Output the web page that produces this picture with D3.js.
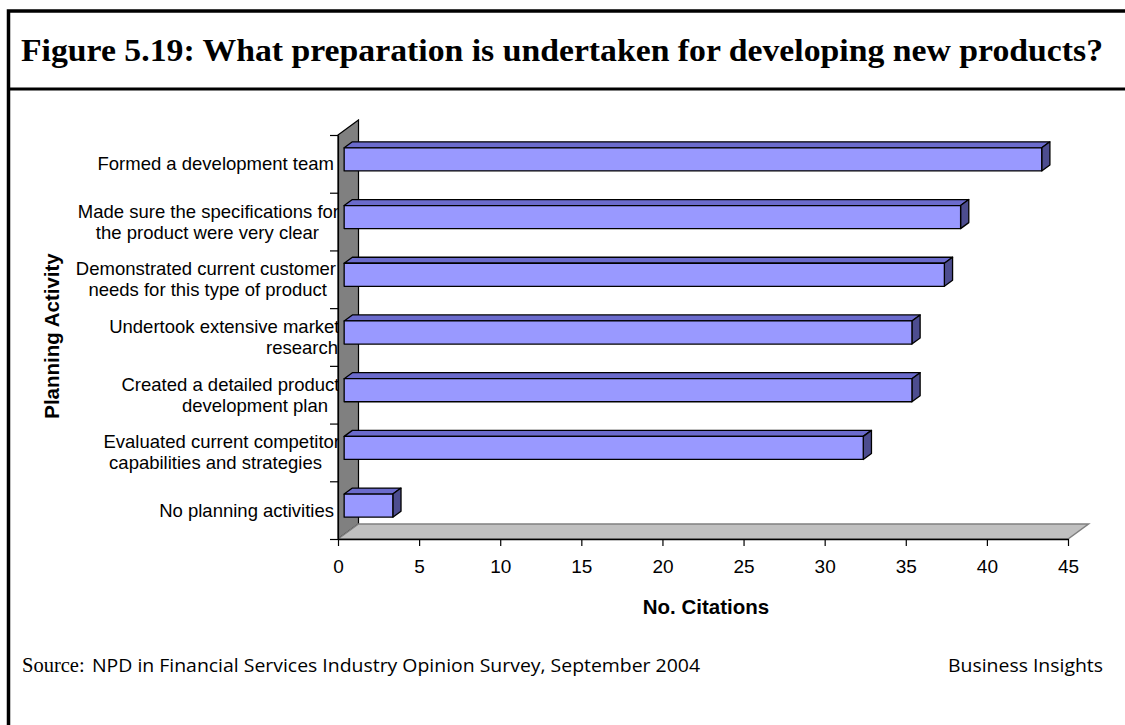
<!DOCTYPE html>
<html>
<head>
<meta charset="utf-8">
<script src="https://cdn.jsdelivr.net/npm/d3@7"></script>
<style>
  html, body { margin: 0; padding: 0; background: #fff; }
  svg { display: block; }
</style>
</head>
<body>
<svg id="chart" width="1125" height="725"></svg>
<script>
// Planning activities, top to bottom
const activities = [
  "Formed a development team",
  "Made sure the specifications for the product were very clear",
  "Demonstrated current customer needs for this type of product",
  "Undertook extensive market research",
  "Created a detailed product development plan",
  "Evaluated current competitor capabilities and strategies",
  "No planning activities"
];
// The same labels as they wrap on the axis
const activityLines = [
  ["Formed a development team"],
  ["Made sure the specifications for", "the product were very clear"],
  ["Demonstrated current customer", "needs for this type of product"],
  ["Undertook extensive market", "research"],
  ["Created a detailed product", "development plan"],
  ["Evaluated current competitor", "capabilities and strategies"],
  ["No planning activities"]
];
// Number of citations for each activity
const citations = [43, 38, 37, 35, 35, 32, 3];
const xTicks = [0, 5, 10, 15, 20, 25, 30, 35, 40, 45];

const titleText = "Figure 5.19: What preparation is undertaken for developing new products?";
const xTitle = "No. Citations";
const yTitle = "Planning Activity";

// Right edge of each wrapped label line (layout only)
const labelLineEnds = [
  [334],
  [339, 319],
  [336, 327],
  [339.5, 338],
  [339.5, 328],
  [340, 322],
  [334]
];

const svg = d3.select("#chart");

// ---- frame and title band ----
svg.append("path")
  .attr("d", "M8.5,1000 L8.5,11 L1200,11")
  .attr("fill", "none").attr("stroke", "#000").attr("stroke-width", 3.5);
svg.append("line")
  .attr("x1", 8).attr("x2", 1200).attr("y1", 89).attr("y2", 89)
  .attr("stroke", "#000").attr("stroke-width", 3);

svg.append("text")
  .attr("x", 562).attr("y", 61)
  .attr("text-anchor", "middle")
  .attr("font-family", "'Liberation Serif', 'Times New Roman', serif")
  .attr("font-weight", "bold")
  .attr("font-size", 32.5)
  .attr("textLength", 1082)
  .attr("lengthAdjust", "spacingAndGlyphs")
  .text(titleText);

// ---- scales ----
const x = d3.scaleLinear().domain([0, 45]).range([338, 1068]);
const y = d3.scaleBand().domain(activities).range([135, 539]).paddingInner(0).paddingOuter(0);
const depth = { dx: 20.5, dy: -15 };   // 3-D depth of the plot box
const barFront = 0.3, barBack = 0.7;  // bars sit in the middle of the depth

// ---- category labels (drawn first so the wall covers any overflow) ----
const sans = "'Liberation Sans', Arial, sans-serif";
const labelG = svg.append("g")
  .attr("font-family", sans).attr("font-size", 18.5).attr("fill", "#000");
activities.forEach((a, i) => {
  const lines = activityLines[i];
  const cy = y(a) + y.bandwidth() / 2;
  const lh = 21;
  lines.forEach((ln, j) => {
    labelG.append("text")
      .attr("x", labelLineEnds[i][j])
      .attr("y", cy + (j - (lines.length - 1) / 2) * lh + 6.5)
      .attr("text-anchor", "end")
      .text(ln);
  });
});

// ---- back wall (left side) ----
const x0 = x(0), yTop = y.range()[0], yBot = y.range()[1];
svg.append("path")
  .attr("d", `M${x0},${yTop} L${x0 + depth.dx},${yTop + depth.dy} L${x0 + depth.dx},${yBot + depth.dy} L${x0},${yBot} Z`)
  .attr("fill", "#808080").attr("stroke", "#000").attr("stroke-width", 1.2);

// ---- floor ----
const x45 = x(45);
svg.append("path")
  .attr("d", `M${x0},${yBot} L${x0 + depth.dx},${yBot + depth.dy} L${x45 + depth.dx},${yBot + depth.dy} L${x45},${yBot} Z`)
  .attr("fill", "#c0c0c0").attr("stroke", "#808080").attr("stroke-width", 1.5);

// ---- x axis ----
const xAxis = svg.append("g")
  .attr("transform", `translate(0,${yBot})`)
  .call(d3.axisBottom(x).tickValues(xTicks).tickSize(7).tickSizeOuter(0).tickPadding(14));
xAxis.select(".domain").attr("stroke", "#000").attr("stroke-width", 1.5);
xAxis.selectAll(".tick line").attr("stroke", "#000").attr("stroke-width", 1.2);
xAxis.selectAll(".tick text")
  .attr("font-family", sans).attr("font-size", 19).attr("fill", "#000");

// ---- category ticks along the wall edge ----
const edgeIdx = d3.range(activities.length + 1);
const yEdge = d3.scaleLinear().domain([0, activities.length]).range([yTop, yBot]);
const yAxis = svg.append("g")
  .attr("transform", `translate(${x0},0)`)
  .call(d3.axisLeft(yEdge).tickValues(edgeIdx).tickSize(8).tickSizeOuter(0).tickFormat(""));
yAxis.select(".domain").attr("stroke", "#000").attr("stroke-width", 1.2);
yAxis.selectAll(".tick line").attr("stroke", "#000").attr("stroke-width", 1.2);

// ---- 3-D bars ----
const fdx = depth.dx * barFront, fdy = depth.dy * barFront;
const bdx = depth.dx * (barBack - barFront), bdy = depth.dy * (barBack - barFront);
const bars = svg.append("g").attr("stroke", "#000").attr("stroke-width", 1.3).attr("stroke-linejoin", "round");
activities.forEach((a, i) => {
  const v = citations[i];
  const xa = x(0) + fdx, xb = x(v) + fdx;
  const ya = y(a) + y.bandwidth() * 0.3 + fdy;
  const yb = y(a) + y.bandwidth() * 0.7 + fdy;
  const g = bars.append("g");
  // top face
  g.append("path")
    .attr("d", `M${xa},${ya} L${xb},${ya} L${xb + bdx},${ya + bdy} L${xa + bdx},${ya + bdy} Z`)
    .attr("fill", "#6b6bcc");
  // end face
  g.append("path")
    .attr("d", `M${xb},${ya} L${xb + bdx},${ya + bdy} L${xb + bdx},${yb + bdy} L${xb},${yb} Z`)
    .attr("fill", "#4d4d8f");
  // front face
  g.append("rect")
    .attr("x", xa).attr("y", ya).attr("width", xb - xa).attr("height", yb - ya)
    .attr("fill", "#9999ff");
});

// ---- axis titles ----
svg.append("text")
  .attr("x", 706).attr("y", 614)
  .attr("text-anchor", "middle")
  .attr("font-family", sans).attr("font-weight", "bold").attr("font-size", 20.5)
  .text(xTitle);
svg.append("text")
  .attr("transform", "translate(59,336) rotate(-90)")
  .attr("text-anchor", "middle")
  .attr("font-family", sans).attr("font-weight", "bold").attr("font-size", 20.5)
  .text(yTitle);

// ---- source line ----
svg.append("text")
  .attr("x", 22).attr("y", 672)
  .attr("font-family", "'Liberation Serif', 'Times New Roman', serif")
  .attr("font-size", 20.5)
  .text("Source:");
svg.append("text")
  .attr("x", 92).attr("y", 672)
  .attr("font-family", "'Open Sans', 'Noto Sans', sans-serif")
  .attr("font-size", 19)
  .attr("textLength", 608).attr("lengthAdjust", "spacingAndGlyphs")
  .text("NPD in Financial Services Industry Opinion Survey, September 2004");
svg.append("text")
  .attr("x", 948).attr("y", 672)
  .attr("font-family", "'Open Sans', 'Noto Sans', sans-serif")
  .attr("font-size", 19)
  .attr("textLength", 155).attr("lengthAdjust", "spacingAndGlyphs")
  .text("Business Insights");
</script>
</body>
</html>
